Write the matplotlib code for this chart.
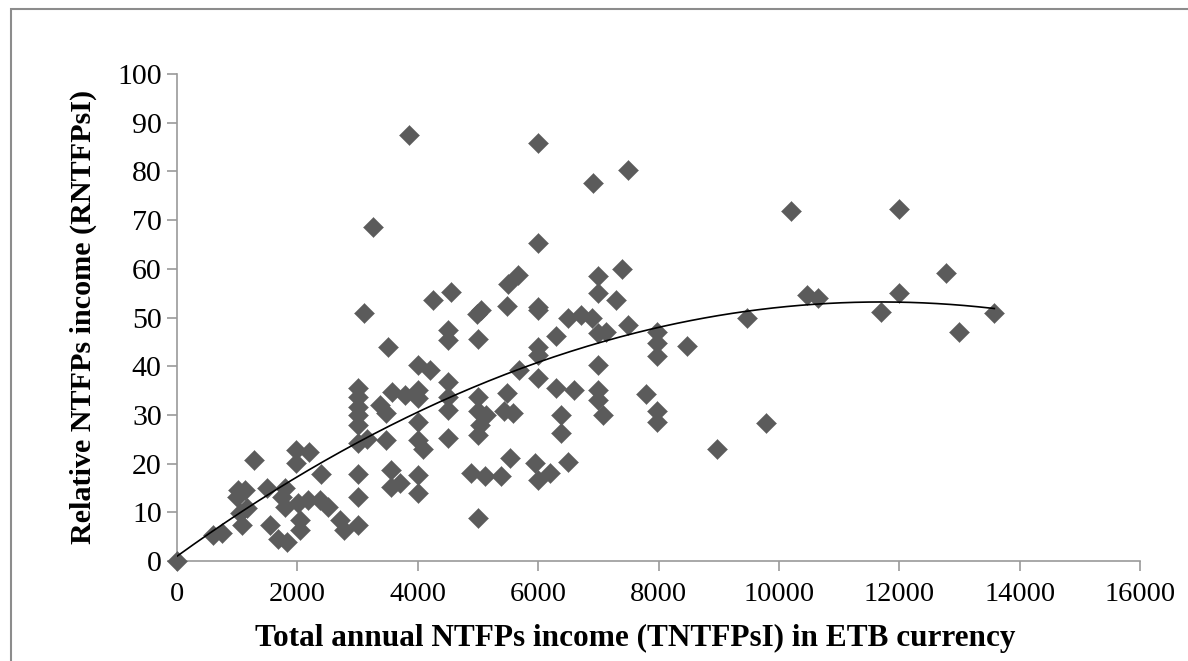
import numpy as np
import matplotlib
matplotlib.use("Agg")
import matplotlib.pyplot as plt
from matplotlib.patches import Rectangle

# Total annual NTFPs income (ETB) and relative NTFPs income (%) per household
income_total = [
    0, 600, 740, 1000, 1020, 1130, 1045, 1075, 1155, 1280,
    1490, 1540, 1680, 1740, 1790, 1790, 1820, 1985, 1985, 2010,
    2040, 2040, 2180, 2200, 2370, 2400, 2510, 2700, 2770, 3000,
    3000, 3000, 3000, 3000, 3000, 3000, 3000, 3000, 3100, 3150,
    3250, 3370, 3480, 3480, 3550, 3700, 3550, 3500, 3580, 3780,
    3850, 4000, 4000, 4000, 4000, 4000, 4000, 4000, 4085, 4200,
    4250, 4500, 4500, 4500, 4500, 4500, 4500, 4555, 4890, 4980,
    5050, 5000, 5000, 5000, 5030, 5000, 5000, 5110, 5140, 5380,
    5440, 5490, 5500, 5490, 5530, 5580, 5660, 5690, 5940, 6000,
    6000, 6000, 6000, 6000, 6000, 6000, 6000, 6190, 6300, 6300,
    6380, 6380, 6490, 6490, 6600, 6710, 6900, 6920, 6990, 6990,
    6990, 6990, 6990, 6990, 7070, 7130, 7290, 7390, 7490, 7490,
    7790, 7980, 7980, 7980, 7980, 7980, 8480, 8980, 9470, 9790,
    10200, 10470, 10650, 11690, 11990, 11990, 12780, 13000, 13580,
]
income_relative = [
    0.0, 5.3, 5.7, 13.2, 14.6, 14.6, 9.8, 7.4, 10.8, 20.7,
    14.9, 7.4, 4.5, 13.2, 14.9, 11.1, 3.8, 22.8, 20.1, 12.0,
    8.4, 6.4, 12.5, 22.4, 12.5, 17.9, 11.1, 8.4, 6.4, 35.5,
    33.7, 31.7, 30.0, 27.9, 24.2, 17.8, 13.2, 7.3, 51.0, 25.0,
    68.5, 32.0, 30.3, 24.8, 18.7, 16.0, 15.1, 44.0, 34.6, 34.1,
    87.5, 40.2, 35.1, 33.4, 28.6, 24.8, 17.7, 13.9, 23.1, 39.2,
    53.5, 47.4, 45.4, 36.8, 33.7, 31.0, 25.2, 55.3, 18.0, 50.8,
    51.6, 45.5, 33.7, 30.7, 27.9, 25.9, 8.8, 17.5, 30.0, 17.5,
    30.7, 52.4, 56.9, 34.4, 21.1, 30.3, 58.7, 39.2, 20.1, 85.8,
    65.4, 52.2, 51.6, 44.0, 42.3, 37.5, 16.6, 18.0, 46.2, 35.5,
    30.0, 26.2, 49.8, 20.4, 35.1, 50.5, 49.8, 77.7, 58.5, 55.0,
    46.8, 40.2, 35.1, 33.1, 30.0, 47.1, 53.6, 59.9, 80.3, 48.5,
    34.2, 47.1, 44.7, 42.0, 30.7, 28.6, 44.2, 23.1, 49.8, 28.3,
    71.9, 54.6, 54.1, 51.1, 72.3, 55.0, 59.1, 47.0, 51.0,
]

x_ticks = [0, 2000, 4000, 6000, 8000, 10000, 12000, 14000, 16000]
y_ticks = [0, 10, 20, 30, 40, 50, 60, 70, 80, 90, 100]

x_title = "Total annual NTFPs income (TNTFPsI) in ETB currency"
y_title = "Relative NTFPs income (RNTFPsI)"

plt.rcParams["font.family"] = ["Liberation Serif", "DejaVu Serif"]

fig = plt.figure(figsize=(11.88, 6.61), dpi=100)
ax = fig.add_axes([177 / 1188, 1 - 561 / 661, (1140 - 177) / 1188, (561 - 74) / 661])

x = np.asarray(income_total, dtype=float)
y = np.asarray(income_relative, dtype=float)

ax.scatter(x, y, marker="D", s=10.2 ** 2, color="#5b5b5b", edgecolors="#5b5b5b",
           linewidths=0.3, zorder=3, clip_on=False)

# second-order polynomial trend line over the observed range
coef = np.polyfit(x, y, 2)
xs = np.linspace(x.min(), x.max(), 300)
ax.plot(xs, np.polyval(coef, xs), color="black", lw=1.2, zorder=4)

ax.set_xlim(0, 16000)
ax.set_ylim(0, 100)
ax.set_xticks(x_ticks)
ax.set_yticks(y_ticks)
ax.set_xticklabels([str(v) for v in x_ticks])
ax.set_yticklabels([str(v) for v in y_ticks])

for side in ("top", "right"):
    ax.spines[side].set_visible(False)
for side in ("left", "bottom"):
    ax.spines[side].set_color("#9a9a9a")
    ax.spines[side].set_linewidth(1.2)

ax.tick_params(axis="both", direction="out", length=7, width=1.2, color="#9a9a9a",
               labelcolor="black")
ax.tick_params(axis="x", pad=8, labelsize=20.5)
ax.tick_params(axis="y", pad=4, labelsize=21.5)

fig.text(635 / 1188, 1 - 638 / 661, x_title, ha="center", va="center",
         fontsize=22.5, fontweight="bold")
fig.text(83 / 1188, 1 - 317 / 661, y_title, ha="center", va="center",
         rotation=90, fontsize=21.7, fontweight="bold")

# chart-area frame (runs past the right and bottom edges)
frame = Rectangle((10.5 / 1188, -0.1), 1.2, 1 - 8.5 / 661 + 0.1,
                  transform=fig.transFigure, fill=False, edgecolor="#8c8c8c",
                  linewidth=1.5, zorder=0)
fig.patches.append(frame)

fig.savefig("out.png", dpi=100)
